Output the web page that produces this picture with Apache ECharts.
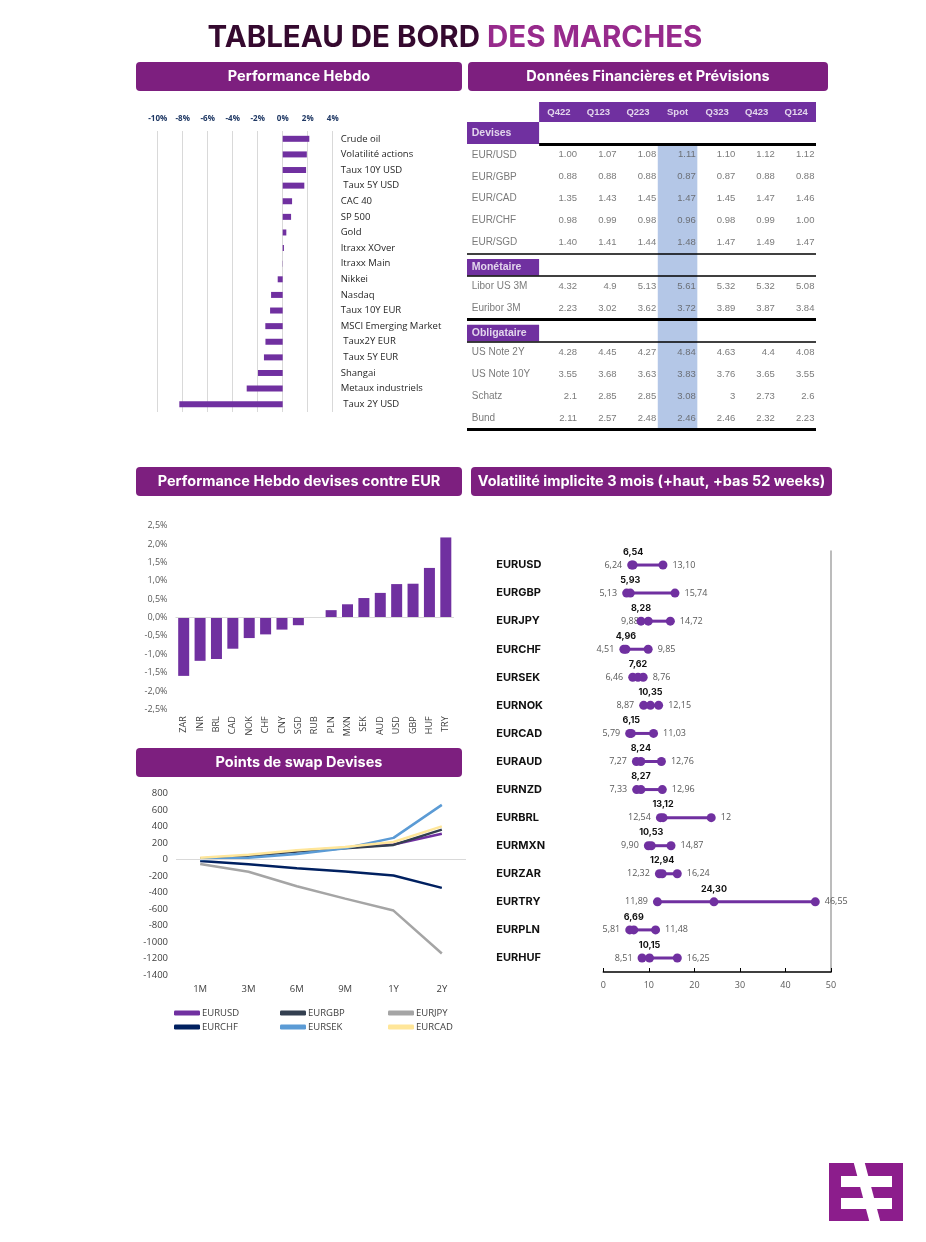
<!DOCTYPE html>
<html><head><meta charset="utf-8">
<script src="https://cdn.jsdelivr.net/npm/echarts/dist/echarts.min.js"></script>
<style>html,body{margin:0;padding:0;background:#fff}#c{width:926px;height:1242px}</style>
</head><body><div id="c"></div>
<script>
// ---------- DATA ----------
const perfCategories = ['Crude oil','Volatilité actions','Taux 10Y USD',' Taux 5Y USD','CAC 40','SP 500','Gold','Itraxx XOver','Itraxx Main','Nikkei','Nasdaq','Taux 10Y EUR','MSCI Emerging Market',' Taux2Y EUR',' Taux 5Y EUR','Shangai','Metaux industriels',' Taux 2Y USD'];
const perfValues = [2.13,1.93,1.87,1.73,0.75,0.67,0.29,0.1,0.02,-0.4,-0.93,-1.01,-1.39,-1.38,-1.5,-1.98,-2.88,-8.27];

const tableColumns = ['Q422','Q123','Q223','Spot','Q323','Q423','Q124'];
const tableSections = ['Devises','Monétaire','Obligataire'];
const devisesRows = ['EUR/USD','EUR/GBP','EUR/CAD','EUR/CHF','EUR/SGD'];
const devisesValues = [
  [1.00,1.07,1.08,1.11,1.10,1.12,1.12],
  [0.88,0.88,0.88,0.87,0.87,0.88,0.88],
  [1.35,1.43,1.45,1.47,1.45,1.47,1.46],
  [0.98,0.99,0.98,0.96,0.98,0.99,1.00],
  [1.40,1.41,1.44,1.48,1.47,1.49,1.47]];
const monetaireRows = ['Libor US 3M','Euribor 3M'];
const monetaireValues = [
  [4.32,4.9,5.13,5.61,5.32,5.32,5.08],
  [2.23,3.02,3.62,3.72,3.89,3.87,3.84]];
const obligataireRows = ['US Note 2Y','US Note 10Y','Schatz','Bund'];
const obligataireValues = [
  [4.28,4.45,4.27,4.84,4.63,4.4,4.08],
  [3.55,3.68,3.63,3.83,3.76,3.65,3.55],
  [2.1,2.85,2.85,3.08,3,2.73,2.6],
  [2.11,2.57,2.48,2.46,2.46,2.32,2.23]];

const fxCategories = ['ZAR','INR','BRL','CAD','NOK','CHF','CNY','SGD','RUB','PLN','MXN','SEK','AUD','USD','GBP','HUF','TRY'];
const fxValues = [-1.59,-1.18,-1.13,-0.85,-0.56,-0.46,-0.33,-0.21,0,0.2,0.36,0.53,0.67,0.91,0.92,1.35,2.18];

const swapTenors = ['1M','3M','6M','9M','1Y','2Y'];
const swapNames = ['EURUSD','EURGBP','EURJPY','EURCHF','EURSEK','EURCAD'];
const swapEURUSD = [10,45,100,140,180,310];
const swapEURGBP = [5,40,95,135,175,360];
const swapEURJPY = [-55,-150,-325,-475,-620,-1140];
const swapEURCHF = [-20,-58,-108,-148,-195,-345];
const swapEURSEK = [0,20,65,135,260,660];
const swapEURCAD = [20,55,110,150,210,400];

const volPairs = ['EURUSD','EURGBP','EURJPY','EURCHF','EURSEK','EURNOK','EURCAD','EURAUD','EURNZD','EURBRL','EURMXN','EURZAR','EURTRY','EURPLN','EURHUF'];
const volLow = [6.24,5.13,9.88,4.51,6.46,8.87,5.79,7.27,7.33,12.54,9.90,12.32,11.89,5.81,8.51];
const volCurrent = [6.54,5.93,8.28,4.96,7.62,10.35,6.15,8.24,8.27,13.12,10.53,12.94,24.30,6.69,10.15];
const volHigh = [13.10,15.74,14.72,9.85,8.76,12.15,11.03,12.76,12.96,23.70,14.87,16.24,46.55,11.48,16.25];
const volHighLabelOverride = {EURBRL:'12'};

// ---------- BUILD ----------
const PURPLE = '#7030A0';
const HEAD = '#7D1F7F';
const SANS = 'Open Sans';
const TABLE_FONT = 'Liberation Sans';
const comma = v => v.toFixed(2).replace('.', ',');

// table model
const LABEL_X = -1.8228;
const blocks = [
  {title: tableSections[0], rows: devisesRows, values: devisesValues, fmt: v => v.toFixed(2)},
  {title: tableSections[1], rows: monetaireRows, values: monetaireValues, fmt: v => String(v)},
  {title: tableSections[2], rows: obligataireRows, values: obligataireValues, fmt: v => String(v)}
];
let r = 0;
const cellData = [], rowLabelData = [], sectionTextData = [], areaData = [], ruleData = [];
const thin = {color:'#000', width:1.5, type:'solid'}, thick = {color:'#000', width:3, type:'solid'};
blocks.forEach((b, s) => {
  const boxTop = s === 0 ? r : r + 0.25;
  if (s > 0) ruleData.push([{coord:[LABEL_X, r], lineStyle: s === 1 ? thin : thick}, {coord:[tableColumns.length, r]}]);
  areaData.push([{coord:[LABEL_X, boxTop], itemStyle:{color:PURPLE}}, {coord:[0, r + 1]}]);
  sectionTextData.push({value:[LABEL_X + 0.12, (boxTop + r + 1) / 2], name: b.title});
  ruleData.push([{coord:[s === 0 ? 0 : LABEL_X, r + 1], lineStyle: s === 0 ? thick : thin}, {coord:[tableColumns.length, r + 1]}]);
  r++;
  b.rows.forEach((name, i) => {
    rowLabelData.push({value:[LABEL_X + 0.12, r + 0.5], name});
    b.values[i].forEach((v, c) => cellData.push({value:[c + 0.96, r + 0.5], name: b.fmt(v)}));
    r++;
  });
});
const totalRows = r;
ruleData.push([{coord:[LABEL_X, totalRows], lineStyle: thick}, {coord:[tableColumns.length, totalRows]}]);
const spotIdx = tableColumns.indexOf('Spot');
areaData.unshift([{coord:[spotIdx, 1], itemStyle:{color:'#B4C7E7'}}, {coord:[spotIdx + 1, totalRows]}]);
areaData.unshift([{coord:[0, -0.91], itemStyle:{color:PURPLE}}, {coord:[tableColumns.length, 0]}]);
const headerData = tableColumns.map((c, i) => ({value:[i + 0.5, -0.45], name: c}));

const swapSeries = [swapEURUSD, swapEURGBP, swapEURJPY, swapEURCHF, swapEURSEK, swapEURCAD];
const swapColors = ['#7030A0','#333F50','#A5A5A5','#002060','#5B9BD5','#FFE699'];

const panels = [
  {text:'Performance Hebdo', x:136, y:62, w:326},
  {text:'Données Financières et Prévisions', x:468, y:62, w:360},
  {text:'Performance Hebdo devises contre EUR', x:136, y:467, w:326},
  {text:'Volatilité implicite 3 mois (+haut, +bas 52 weeks)', x:471, y:467, w:361},
  {text:'Points de swap Devises', x:136, y:748, w:326}
];
const graphics = [];
panels.forEach(p => {
  graphics.push({type:'rect', shape:{x:p.x, y:p.y, width:p.w, height:29, r:4}, style:{fill:HEAD}});
  graphics.push({type:'text', x:p.x + p.w / 2, y:p.y + 15, style:{text:p.text, fill:'#fff', font:'bold 14.5px Inter', textAlign:'center', textVerticalAlign:'middle'}});
});
graphics.push({type:'text', x:455, y:38, style:{
  text:'{a|TABLEAU DE BORD }{b|DES MARCHES}', textAlign:'center', textVerticalAlign:'middle',
  rich:{a:{fill:'#35092F', font:'bold 29.5px Inter'}, b:{fill:'#972A8C', font:'bold 29.5px Inter'}}}});
// logo
graphics.push({type:'group', children:[
  {type:'rect', shape:{x:829, y:1163, width:74, height:58}, style:{fill:'#8C1D8C'}},
  {type:'rect', shape:{x:841, y:1176, width:51, height:11}, style:{fill:'#fff'}},
  {type:'rect', shape:{x:841, y:1198, width:51, height:11}, style:{fill:'#fff'}},
  {type:'polygon', shape:{points:[[853,1160],[864,1160],[881,1224],[870,1224]]}, style:{fill:'#fff'}}
]});

const series = [];
// Perf hebdo
series.push({type:'bar', xAxisIndex:0, yAxisIndex:0, data:perfValues, barWidth:6, itemStyle:{color:PURPLE}});
// table decor
series.push({type:'scatter', xAxisIndex:1, yAxisIndex:1, z:1, data:headerData, symbolSize:0, label:{show:false}, silent:true,
  markArea:{silent:true, label:{show:false}, data:areaData},
  markLine:{silent:true, symbol:'none', label:{show:false}, data:ruleData}});
series.push({type:'scatter', xAxisIndex:1, yAxisIndex:1, z:5, data:headerData, symbolSize:0, silent:true,
  label:{show:true, position:'inside', formatter:'{b}', color:'#fff', fontWeight:'bold', fontSize:9.5, fontFamily:TABLE_FONT}});
series.push({type:'scatter', xAxisIndex:1, yAxisIndex:1, z:5, data:sectionTextData, symbolSize:0, silent:true,
  label:{show:true, position:'right', distance:0, formatter:'{b}', color:'#fff', fontWeight:'bold', fontSize:10.5, fontFamily:TABLE_FONT}});
series.push({type:'scatter', xAxisIndex:1, yAxisIndex:1, z:5, data:rowLabelData, symbolSize:0, silent:true,
  label:{show:true, position:'right', distance:0, formatter:'{b}', color:'#595959', fontSize:10, fontFamily:TABLE_FONT}});
series.push({type:'scatter', xAxisIndex:1, yAxisIndex:1, z:5, data:cellData, symbolSize:0, silent:true,
  label:{show:true, position:'left', distance:0, formatter:'{b}', color:'#595959', fontSize:9.5, fontFamily:TABLE_FONT}});
// FX bars
series.push({type:'bar', xAxisIndex:2, yAxisIndex:2, data:fxValues, barWidth:11, itemStyle:{color:PURPLE},
  markLine:{silent:true, symbol:'none', label:{show:false}, lineStyle:{color:'#D9D9D9', width:1, type:'solid'}, data:[{yAxis:0}]}});
// Swap lines
swapSeries.forEach((d, i) => {
  const s = {type:'line', name:swapNames[i], xAxisIndex:3, yAxisIndex:3, data:d, symbol:'none',
    lineStyle:{color:swapColors[i], width:2.5}, itemStyle:{color:swapColors[i]}};
  if (i === 0) s.markLine = {silent:true, symbol:'none', label:{show:false}, lineStyle:{color:'#D9D9D9', width:1, type:'solid'}, data:[{yAxis:0}]};
  series.push(s);
});
// Volatility dumbbells
series.push({type:'custom', xAxisIndex:4, yAxisIndex:4, silent:true,
  data: volPairs.map((p, i) => [volLow[i], volHigh[i], i]),
  encode:{x:[0,1], y:2},
  renderItem:(params, api) => {
    const a = api.coord([api.value(0), api.value(2)]);
    const b = api.coord([api.value(1), api.value(2)]);
    return {type:'line', shape:{x1:a[0], y1:a[1], x2:b[0], y2:b[1]}, style:{stroke:PURPLE, lineWidth:3}};
  }});
const dot = {type:'scatter', xAxisIndex:4, yAxisIndex:4, symbolSize:9, itemStyle:{color:PURPLE, opacity:1}, silent:true};
series.push(Object.assign({}, dot, {data: volLow.map((v, i) => [v, i]),
  label:{show:true, position:'left', distance:5, formatter:p => comma(p.value[0]), color:'#595959', fontSize:9, fontFamily:SANS}}));
series.push(Object.assign({}, dot, {data: volHigh.map((v, i) => [v, i]),
  label:{show:true, position:'right', distance:5, formatter:p => volHighLabelOverride[volPairs[p.value[1]]] || comma(p.value[0]), color:'#595959', fontSize:9, fontFamily:SANS}}));
series.push(Object.assign({}, dot, {data: volCurrent.map((v, i) => [v, i]), z:4,
  label:{show:true, position:'top', distance:4, formatter:p => comma(p.value[0]), color:'#111', fontWeight:'bold', fontSize:9, fontFamily:'Inter'}}));

const legendBase = {orient:'vertical', itemWidth:26, itemHeight:5, itemGap:4, icon:'roundRect', top:1003,
  textStyle:{color:'#404040', fontSize:9.5, fontFamily:SANS, padding:[0,0,0,-3]}};

const option = {
  animation:false,
  backgroundColor:'#fff',
  textStyle:{fontFamily:SANS},
  graphic:graphics,
  legend:[
    Object.assign({}, legendBase, {left:169, data:['EURUSD','EURCHF']}),
    Object.assign({}, legendBase, {left:275, data:['EURGBP','EURSEK']}),
    Object.assign({}, legendBase, {left:383, data:['EURJPY','EURCAD']})
  ],
  grid:[
    {left:157.7, top:131, width:175, height:281},
    {left:467, top:102, width:349, height:327},
    {left:175.5, top:525.7, width:278.5, height:183.6},
    {left:176, top:793.3, width:290, height:181.7},
    {left:603.3, top:551, width:227.7, height:421}
  ],
  xAxis:[
    {gridIndex:0, type:'value', position:'top', min:-10, max:4, interval:2,
      axisLabel:{formatter:'{value}%', color:'#1F3864', fontSize:8, fontWeight:'bold', margin:8, fontFamily:SANS},
      splitLine:{show:true, lineStyle:{color:'#D9D9D9'}}, axisLine:{show:false}, axisTick:{show:false}},
    {gridIndex:1, type:'value', min:LABEL_X, max:tableColumns.length, show:false},
    {gridIndex:2, type:'category', data:fxCategories, axisLine:{show:false}, axisTick:{show:false},
      axisLabel:{rotate:90, interval:0, margin:7, color:'#404040', fontSize:9, fontFamily:SANS}},
    {gridIndex:3, type:'category', data:swapTenors, axisLine:{show:false}, axisTick:{show:false},
      axisLabel:{margin:9, color:'#404040', fontSize:9.5, fontFamily:SANS}},
    {gridIndex:4, type:'value', min:0, max:50, interval:10,
      axisLine:{show:true, lineStyle:{color:'#000', width:1.5}},
      axisTick:{show:true, inside:true, length:4, lineStyle:{color:'#000'}},
      axisLabel:{color:'#595959', fontSize:9, margin:9, fontFamily:SANS}, splitLine:{show:false}}
  ],
  yAxis:[
    {gridIndex:0, type:'category', data:perfCategories, inverse:true, position:'right',
      axisLine:{show:false}, axisTick:{show:false},
      axisLabel:{margin:8, color:'#262626', fontSize:9.5, fontFamily:SANS, interval:0}},
    {gridIndex:1, type:'value', min:-0.91, max:totalRows, inverse:true, show:false},
    {gridIndex:2, type:'value', min:-2.5, max:2.5, interval:0.5, splitLine:{show:false},
      axisLine:{show:false}, axisTick:{show:false},
      axisLabel:{formatter:v => v.toFixed(1).replace('.', ',') + '%', color:'#595959', fontSize:9, margin:8, fontFamily:SANS}},
    {gridIndex:3, type:'value', min:-1400, max:800, interval:200, splitLine:{show:false},
      axisLine:{show:false}, axisTick:{show:false},
      axisLabel:{formatter:v => String(v), color:'#404040', fontSize:9.5, margin:8, fontFamily:SANS}},
    {gridIndex:4, type:'category', data:volPairs, inverse:true, axisLine:{show:false}, axisTick:{show:false},
      axisLabel:{align:'left', margin:107, fontWeight:'bold', color:'#111', fontSize:11, fontFamily:'Inter', interval:0}},
    {gridIndex:4, type:'category', data:volPairs, inverse:true, position:'right',
      axisLine:{show:true, lineStyle:{color:'#A6A6A6', width:1.5}}, axisTick:{show:false}, axisLabel:{show:false}}
  ],
  series:series
};
const chart = echarts.init(document.getElementById('c'), null, {width:926, height:1242});
chart.setOption(option);
</script></body></html>
